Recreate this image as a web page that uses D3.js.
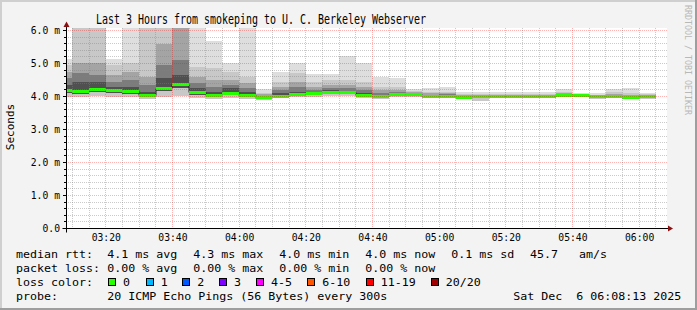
<!DOCTYPE html>
<html><head><meta charset="utf-8">
<script src="https://cdn.jsdelivr.net/npm/d3@7"></script>
<style>html,body{margin:0;padding:0;background:#f3f3f3}svg{display:block}</style>
</head><body><svg id="c" width="697" height="310"></svg>
<script>
// ---------------- DATA ----------------
const titleText = "Last 3 Hours from smokeping to U. C. Berkeley Webserver";
const yLabel = "Seconds";
const sideText = "RRDTOOL / TOBI OETIKER";
// end time of every 5-minute step
const stepEnds = ["03:10","03:15","03:20","03:25","03:30","03:35","03:40","03:45","03:50","03:55",
  "04:00","04:05","04:10","04:15","04:20","04:25","04:30","04:35","04:40","04:45",
  "04:50","04:55","05:00","05:05","05:10","05:15","05:20","05:25","05:30","05:35",
  "05:40","05:45","05:50","05:55","06:00","06:05"];
// median rtt (ms)
const median = [4.20,4.18,4.24,4.20,4.18,4.05,4.27,4.37,4.13,4.05,
  4.12,4.05,3.98,4.03,4.08,4.12,4.15,4.13,4.05,4.02,
  4.08,4.08,4.02,4.03,3.99,4.00,4.02,4.02,4.03,4.02,
  4.04,4.05,4.00,4.02,3.99,4.03];
// smoke band upper edges (ms), outer (lightest) to inner (darkest)
const smokeTop1 = [5.13,7,7,5.13,7,7,7,7,7,5.69, 5.02,7,4.22,4.75,5.02,4.68,4.68,5.24,5.02,4.60,
  4.57,4.23,4.25,4.30,4.13,4.13,4.13,4.13,4.13,4.13, 4.23,4.10,4.10,4.23,4.25,4.12];
const smokeTop2 = [4.95,6.5,6.5,4.95,5.0,6.5,7,7,4.9,4.85, 4.75,4.6,4.12,4.45,4.7,4.45,4.5,4.5,4.45,4.3,
  4.3,4.18,4.15,4.15,4.08,4.08,4.08,4.08,4.08,4.08, 4.15,4.08,4.06,4.15,4.12,4.08];
const smokeTop3 = [4.75,5.0,5.0,4.65,4.75,4.6,5.6,6.5,4.6,4.5, 4.5,4.4,4.07,4.3,4.45,4.3,4.35,4.35,4.3,4.2,
  4.2,4.14,4.1,4.1,4.05,4.05,4.06,4.06,4.06,4.05, 4.1,4.07,4.04,4.08,4.06,4.06];
const smokeTop4 = [4.55,4.7,4.65,4.45,4.5,4.35,4.95,5.1,4.4,4.3, 4.35,4.25,4.03,4.2,4.3,4.2,4.25,4.25,4.2,4.1,
  4.13,4.11,4.06,4.07,4.03,4.03,4.04,4.04,4.05,4.04, 4.07,4.06,4.02,4.05,4.03,4.05];
const smokeTop5 = [4.35,4.45,4.45,4.30,4.3,4.15,4.55,4.65,4.25,4.15, 4.25,4.13,4.0,4.1,4.15,4.15,4.2,4.18,4.1,4.06,
  4.1,4.09,4.04,4.05,4.01,4.02,4.03,4.03,4.04,4.03, 4.05,4.06,4.01,4.03,4.01,4.04];
// smoke lower edges (ms)
const smokeLow1 = [3.98,3.98,4.00,3.98,3.97,3.92,3.98,4.02,3.95,3.93, 3.95,3.93,3.90,3.95,3.97,3.97,4.00,4.00,3.95,3.93,
  3.98,3.98,3.94,3.95,3.93,3.87,3.95,3.95,3.96,3.95, 3.97,3.98,3.92,3.95,3.94,3.93];
const smokeLow2 = [4.10,4.08,4.15,4.12,4.08,3.99,4.18,4.26,4.05,3.99, 4.05,3.99,3.95,3.99,4.03,4.06,4.10,4.07,4.00,3.98,
  4.03,4.03,3.98,3.99,3.96,3.95,3.98,3.98,3.99,3.98, 4.00,4.02,3.96,3.98,3.96,3.99];
const yTickValues = [0,1,2,3,4,5,6];
const yTickLabels = ["0.0","1.0 m","2.0 m","3.0 m","4.0 m","5.0 m","6.0 m"];
const legendRows = [
  [["median rtt:",16],["4.1 ms avg",107.3],["4.3 ms max",193.3],["4.0 ms min",279.3],["4.0 ms now",365.3],["0.1 ms sd",451.3],["45.7   am/s",530]],
  [["packet loss:",16],["0.00 % avg",107.3],["0.00 % max",193.3],["0.00 % min",279.3],["0.00 % now",365.3]],
  [["loss color:",16]],
  [["probe:",16],["20 ICMP Echo Pings (56 Bytes) every 300s",107.3],["Sat Dec  6 06:08:13 2025",513.3]]
];
const lossLabels = ["0","1","2","3","4-5","6-10","11-19","20/20"];
const lossColors = ["#26ff00","#00b8ff","#0059ff","#7e00ff","#ff00ff","#ff5500","#ff0000","#a10000"];
const lossBoxX = [108,145.7,182.3,219,256,307.3,365.7,430.7];

// ---------------- DRAW ----------------
const svg = d3.select("#c");
const W = 697, H = 310;
const FONT = "'DejaVu Sans Mono', monospace";
const t0 = new Date(2025,11,6,3,8,13), t1 = new Date(2025,11,6,6,8,13);
const x = d3.scaleTime().domain([t0,t1]).range([66.5,666.5]);
const y = d3.scaleLinear().domain([0,6.0606]).range([228.5,28.5]);
const pt = s => { const [h,m] = s.split(":").map(Number); return new Date(2025,11,6,h,m,0); };

// patterns for 1-on/1-off dotted grid lines
const defs = svg.append("defs");
const mkPat = (id, w, h, col) => {
  const p = defs.append("pattern").attr("id",id).attr("patternUnits","userSpaceOnUse")
    .attr("x",0).attr("y",0).attr("width",w).attr("height",h);
  p.append("rect").attr("x",0).attr("y",0).attr("width",1).attr("height",1).attr("fill",col);
};
const GRIDC = "rgba(128,128,128,0.42)", MGRIDC = "rgba(255,0,0,0.3)";
mkPat("hG",2,1,GRIDC); mkPat("vG",1,2,GRIDC); mkPat("hM",2,1,MGRIDC); mkPat("vM",1,2,MGRIDC);

// background + frame
svg.append("rect").attr("width",W).attr("height",H).attr("fill","#f3f3f3");
svg.append("rect").attr("x",0).attr("y",0).attr("width",W).attr("height",2).attr("fill","#cfcfcf");
svg.append("rect").attr("x",0).attr("y",0).attr("width",2).attr("height",H).attr("fill","#cfcfcf");
svg.append("rect").attr("x",0).attr("y",H-2).attr("width",W).attr("height",2).attr("fill","#9e9e9e");
svg.append("rect").attr("x",W-2).attr("y",0).attr("width",2).attr("height",H).attr("fill","#9e9e9e");

// canvas
svg.append("rect").attr("x",67).attr("y",28).attr("width",600).attr("height",200).attr("fill","#ffffff");
svg.append("clipPath").attr("id","clip").append("rect").attr("x",67).attr("y",28).attr("width",600).attr("height",200);
const plot = svg.append("g").attr("clip-path","url(#clip)");

const steps = stepEnds.map((s,i) => {
  const e = pt(s), b = new Date(e.getTime()-300000);
  return {x0: Math.round(x(b)), x1: Math.round(x(e)), i};
});
const bands = [
  {top: smokeTop1, low: smokeLow1, color:"#dedede"},
  {top: smokeTop2, low: smokeLow1, color:"#c8c8c8"},
  {top: smokeTop3, low: smokeLow2, color:"#a4a4a4"},
  {top: smokeTop4, low: smokeLow2, color:"#7c7c7c"},
  {top: smokeTop5, low: smokeLow2, color:"#505050"}
];
bands.forEach(b => {
  plot.append("g").selectAll("rect").data(steps).join("rect")
    .attr("x", d => d.x0).attr("width", d => d.x1 - d.x0)
    .attr("y", d => Math.round(y(b.top[d.i])))
    .attr("height", d => Math.max(0, Math.round(y(b.low[d.i])) - Math.round(y(b.top[d.i]))))
    .attr("fill", b.color).attr("shape-rendering","crispEdges");
});

// grid
const grid = svg.append("g").attr("shape-rendering","crispEdges");
const ry = v => Math.floor(y(v));
const rx = d => Math.floor(x(d));
const minorY = d3.range(1,31).map(k => k*0.2).filter(v => Math.abs(v - Math.round(v)) > 1e-6);
const minorX = x.ticks(d3.timeMinute.every(5)).filter(d => d.getMinutes()%20 !== 0);
const majorX = x.ticks(d3.timeMinute.every(20));
grid.selectAll(".gy").data(minorY).join("rect")
  .attr("x",67).attr("width",600).attr("y",ry).attr("height",1).attr("fill","url(#hG)");
grid.selectAll(".gx").data(minorX).join("rect")
  .attr("y",28).attr("height",200).attr("x",rx).attr("width",1).attr("fill","url(#vG)");
grid.selectAll(".my").data(yTickValues.slice(1)).join("rect")
  .attr("x",67).attr("width",600).attr("y",ry).attr("height",1).attr("fill","url(#hM)");
grid.selectAll(".mx").data(majorX).join("rect")
  .attr("y",28).attr("height",200).attr("x",rx).attr("width",1).attr("fill","url(#vM)");

// median: dark step line + green band
const medPts = steps.map(d => [d.x0, Math.round(y(median[d.i]))+0.5]);
const lastS = steps[steps.length-1];
medPts.push([lastS.x1, Math.round(y(median[lastS.i]))+0.5]);
plot.append("path").attr("d", d3.line().curve(d3.curveStepAfter)(medPts))
  .attr("fill","none").attr("stroke","#202020").attr("stroke-width",1);
plot.append("g").selectAll("rect").data(steps).join("rect")
  .attr("x", d => d.x0).attr("width", d => d.x1 - d.x0)
  .attr("y", d => Math.round(y(median[d.i])) - 1).attr("height", 3)
  .attr("fill", lossColors[0]).attr("shape-rendering","crispEdges");

// axes lines + arrows
svg.append("line").attr("x1",62.5).attr("x2",668).attr("y1",228.5).attr("y2",228.5).attr("stroke","#000");
svg.append("line").attr("x1",66.5).attr("x2",66.5).attr("y1",232.5).attr("y2",26).attr("stroke","#000");
svg.append("path").attr("d","M668,225.5L673,228.5L668,231.5Z").attr("fill","#8c1010");
svg.append("path").attr("d","M63.5,27L66.5,21.5L69.5,27Z").attr("fill","#8c1010");

// y ticks (small marks)
svg.append("g").selectAll("line").data(minorY).join("line")
  .attr("x1",64).attr("x2",66.5).attr("y1",d=>ry(d)+0.5).attr("y2",d=>ry(d)+0.5)
  .attr("stroke","#000").attr("shape-rendering","crispEdges");
svg.append("g").selectAll("line").data(yTickValues).join("line")
  .attr("x1",62.5).attr("x2",66.5).attr("y1",d=>ry(d)+0.5).attr("y2",d=>ry(d)+0.5)
  .attr("stroke","#000").attr("shape-rendering","crispEdges");

// axis labels via d3 axes
const fitText = (sel, cw) => sel.each(function(){ const t=d3.select(this).text(); d3.select(this).attr("textLength", t.length*cw).attr("lengthAdjust","spacingAndGlyphs"); });
const ax = svg.append("g").attr("transform","translate(0,228.5)")
  .call(d3.axisBottom(x).tickValues(majorX).tickFormat(d3.timeFormat("%H:%M")).tickSize(0).tickPadding(0));
ax.select(".domain").remove();
ax.selectAll("text").attr("y",12.5).attr("dy",null).attr("font-family",FONT).attr("font-size","9.8px").attr("fill","#000").call(fitText,5.85);
const ay = svg.append("g").attr("transform","translate(60,0)")
  .call(d3.axisLeft(y).tickValues(yTickValues).tickFormat((d,i)=>yTickLabels[i]).tickSize(0).tickPadding(0));
ay.select(".domain").remove();
ay.selectAll("text").attr("x",0).attr("dy","0.32em").attr("font-family",FONT).attr("font-size","9.8px").attr("fill","#000").call(fitText,5.85);

// title
svg.append("text").attr("x",261).attr("y",23.5).attr("text-anchor","middle")
  .attr("font-family",FONT).attr("font-size","13.5px").attr("fill","#000").text(titleText).call(fitText,6.0);
// y title
svg.append("text").attr("transform","translate(14,127) rotate(-90)").attr("text-anchor","middle")
  .attr("font-family",FONT).attr("font-size","11px").attr("fill","#000").text(yLabel);
// side text
svg.append("text").attr("transform","translate(685,5) rotate(90)").attr("text-anchor","start")
  .attr("font-family",FONT).attr("font-size","8.3px").attr("fill","#b8b8b8").text(sideText).call(fitText,5.0);

// legend
const rowY = [258.3,272.3,286.3,300.3];
legendRows.forEach((row,ri) => {
  row.forEach(([txt,xx]) => {
    svg.append("text").attr("x",xx).attr("y",rowY[ri]).attr("xml:space","preserve").style("white-space","pre")
      .attr("font-family",FONT).attr("font-size","10.8px").attr("fill","#000").text(txt).call(fitText,7.0);
  });
});
const lg = svg.append("g");
lg.selectAll("rect").data(lossLabels).join("rect")
  .attr("x",(d,i)=>Math.round(lossBoxX[i])+0.5).attr("y",278.5).attr("width",7).attr("height",7)
  .attr("fill",(d,i)=>lossColors[i]).attr("stroke","#000");
lg.selectAll("text").data(lossLabels).join("text")
  .attr("x",(d,i)=>lossBoxX[i]+15).attr("y",rowY[2])
  .attr("font-family",FONT).attr("font-size","10.8px").attr("fill","#000").text(d=>d).call(fitText,7.0);
</script></body></html>
